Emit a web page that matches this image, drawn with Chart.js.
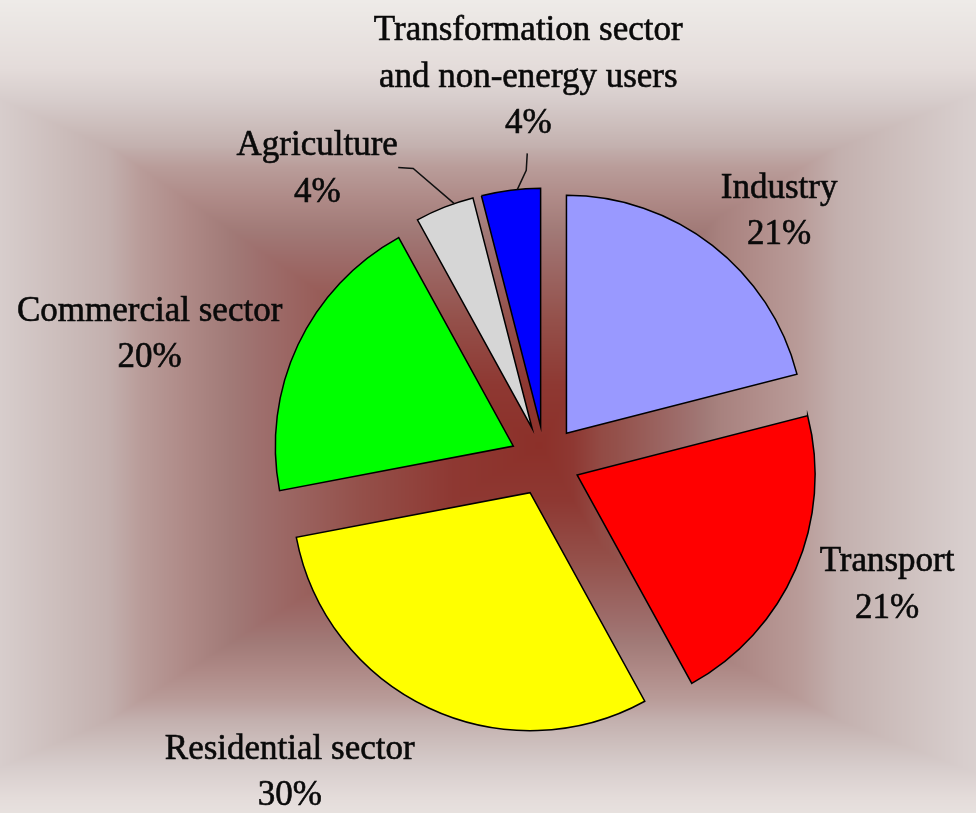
<!DOCTYPE html>
<html>
<head>
<meta charset="utf-8">
<script src="https://cdn.jsdelivr.net/npm/chart.js@4.4.1/dist/chart.umd.min.js"></script>
<style>
  html, body { margin: 0; padding: 0; background: #e8e2e0; }
  #wrap { width: 976px; height: 813px; }
</style>
</head>
<body>
<div id="wrap"><canvas id="pie" width="976" height="813"></canvas></div>
<script>
// Final energy consumption by sector (shares, %)
const categories = [
  ['Industry'],
  ['Transport'],
  ['Residential sector'],
  ['Commercial sector'],
  ['Agriculture'],
  ['Transformation sector', 'and non-energy users']
];
const shares = [21, 21, 30, 20, 4, 4];
const sliceColors = ['#9999ff', '#ff0000', '#ffff00', '#00ff00', '#d6d6d6', '#0000ff'];

// Where each label sits: distance from the pie centre and a turn (deg) from the slice's mid-angle
const labelPlacement = [
  { dist: 342, turn: 5.4 },
  { dist: 364, turn: -3.4 },
  { dist: 403, turn: 14.1 },
  { dist: 415, turn: -7.5 },
  { dist: 370, turn: -16.4 },
  { dist: 384, turn: 4.7 }
];
// Leader lines for the two thin slices: edge point turn (deg), then two points relative to the label
const leaders = {
  4: { edgeTurn: 2.5, pts: [[96, -1], [81, -2]] },
  5: { edgeTurn: 1.6, pts: [[-2, 93], [-1, 76]] }
};

const EXPLODE = 35;
const FONT = '35px "Liberation Serif", "Times New Roman", serif';
const LINE_H = 46.5;

// Rectangular shading that darkens towards the middle of the canvas.
// shadeProfile maps a 0..1 depth to a colour; each side maps pixel distance to that depth.
const shadeProfile = [
  [0.00, [140, 48, 41]],
  [0.12, [142, 56, 50]],
  [0.25, [148, 80, 74]],
  [0.39, [158, 111, 109]],
  [0.43, [161, 122, 119]],
  [0.49, [174, 137, 134]],
  [0.555, [185, 156, 153]],
  [0.60, [195, 176, 174]],
  [0.66, [203, 188, 186]],
  [0.75, [215, 205, 204]],
  [0.85, [228, 220, 218]],
  [1.00, [238, 235, 232]]
];
const sideDepth = {
  left:   [[0, 0], [540, 0.75]],
  right:  [[0, 0], [60, 0.22], [180, 0.46], [290, 0.59], [436, 0.77]],
  top:    [[0, 0], [295, 0.59], [378, 0.85], [445, 1]],
  bottom: [[0, 0], [275, 0.6], [368, 0.9]]
};
function interp(table, v) {
  for (let k = 1; k < table.length; k++) {
    if (v <= table[k][0]) {
      const [a0, b0] = table[k - 1], [a1, b1] = table[k];
      return b0 + (b1 - b0) * (v - a0) / (a1 - a0);
    }
  }
  return table[table.length - 1][1];
}
function shadeAt(t) {
  t = Math.min(1, Math.max(0, t));
  for (let k = 1; k < shadeProfile.length; k++) {
    const [t1, c1] = shadeProfile[k];
    if (t <= t1) {
      const [t0, c0] = shadeProfile[k - 1];
      const f = (t - t0) / (t1 - t0);
      return [0, 1, 2].map(j => c0[j] + (c1[j] - c0[j]) * f);
    }
  }
  return shadeProfile[shadeProfile.length - 1][1];
}
const backdrop = {
  id: 'backdrop',
  beforeDraw(chart) {
    const ctx = chart.ctx;
    const W = chart.width, H = chart.height;
    const cx = 540, cy = 445;
    const img = ctx.createImageData(W, H);
    const d = img.data;
    const colX = [];
    for (let x = 0; x < W; x++) {
      colX.push(x < cx ? interp(sideDepth.left, cx - x) : interp(sideDepth.right, x - cx));
    }
    for (let y = 0; y < H; y++) {
      const ty = y < cy ? interp(sideDepth.top, cy - y) : interp(sideDepth.bottom, y - cy);
      for (let x = 0; x < W; x++) {
        const c = shadeAt(Math.max(colX[x], ty));
        const o = (y * W + x) * 4;
        d[o] = c[0]; d[o + 1] = c[1]; d[o + 2] = c[2]; d[o + 3] = 255;
      }
    }
    ctx.putImageData(img, 0, 0);
  }
};

// Pulls every slice out from the centre along its mid-angle
const explodedSlices = {
  id: 'explodedSlices',
  beforeDatasetsDraw(chart) {
    const ctx = chart.ctx;
    const meta = chart.getDatasetMeta(0);
    meta.data.forEach((arc) => {
      const { startAngle, endAngle } = arc.getProps(['startAngle', 'endAngle'], true);
      const mid = (startAngle + endAngle) / 2;
      ctx.save();
      ctx.translate(Math.cos(mid) * EXPLODE, Math.sin(mid) * EXPLODE);
      arc.draw(ctx, chart.chartArea);
      ctx.restore();
    });
    return false;
  }
};

// Category name and percentage outside each slice
const sliceLabels = {
  id: 'sliceLabels',
  afterDraw(chart) {
    const ctx = chart.ctx;
    const meta = chart.getDatasetMeta(0);
    const deg = Math.PI / 180;
    ctx.save();
    ctx.font = FONT;
    ctx.fillStyle = '#0a0a0a';
    ctx.strokeStyle = '#0a0a0a';
    ctx.lineWidth = 0.6;
    ctx.textAlign = 'center';
    ctx.textBaseline = 'middle';
    meta.data.forEach((arc, i) => {
      const { x, y, startAngle, endAngle, outerRadius } =
        arc.getProps(['x', 'y', 'startAngle', 'endAngle', 'outerRadius'], true);
      const mid = (startAngle + endAngle) / 2;
      const p = labelPlacement[i];
      const a = mid + p.turn * deg;
      const lx = x + Math.cos(a) * p.dist;
      const ly = y + Math.sin(a) * p.dist;
      const lines = [...chart.data.labels[i], shares[i] + '%'];
      const top = ly - (lines.length - 1) * LINE_H / 2;
      lines.forEach((t, k) => {
        ctx.fillText(t, lx, top + k * LINE_H);
        ctx.strokeText(t, lx, top + k * LINE_H);
      });

      const ld = leaders[i];
      if (ld) {
        const ox = x + Math.cos(mid) * EXPLODE;
        const oy = y + Math.sin(mid) * EXPLODE;
        const ea = mid + ld.edgeTurn * deg;
        ctx.save();
        ctx.beginPath();
        ctx.moveTo(ox + Math.cos(ea) * outerRadius, oy + Math.sin(ea) * outerRadius);
        ld.pts.forEach(([dx, dy]) => ctx.lineTo(lx + dx, ly + dy));
        ctx.strokeStyle = '#111';
        ctx.lineWidth = 1.5;
        ctx.stroke();
        ctx.restore();
      }
    });
    ctx.restore();
  }
};

new Chart(document.getElementById('pie'), {
  type: 'pie',
  data: {
    labels: categories,
    datasets: [{
      data: shares,
      backgroundColor: sliceColors,
      borderColor: '#000000',
      borderWidth: 1.5,
      borderJoinStyle: 'miter'
    }]
  },
  options: {
    responsive: false,
    animation: false,
    radius: 238,
    layout: { padding: { left: 114, right: 0, top: 109, bottom: 0 } },
    plugins: {
      legend: { display: false },
      tooltip: { enabled: false }
    },
    events: []
  },
  plugins: [backdrop, explodedSlices, sliceLabels]
});
</script>
</body>
</html>
